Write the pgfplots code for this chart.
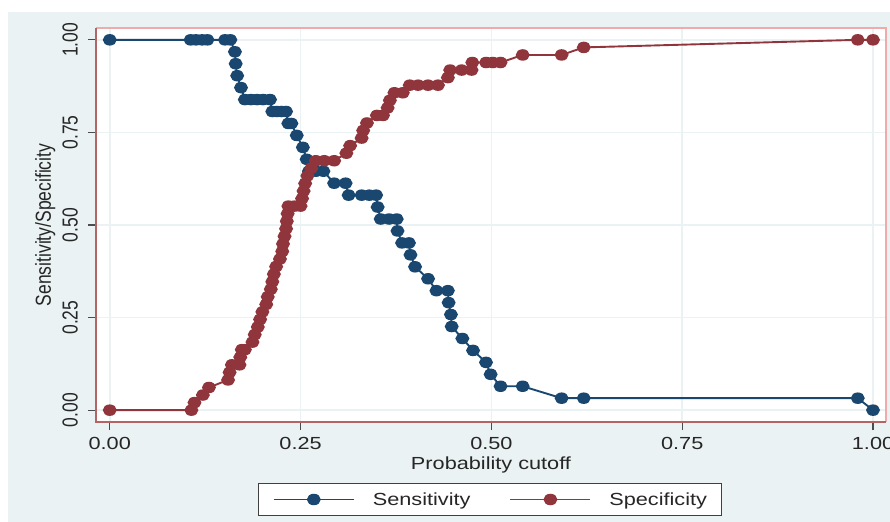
\documentclass[border=0pt]{standalone}
\usepackage{fontspec}
\setmainfont{Liberation Sans}[FakeStretch=1.24]
\newfontfamily\plainsans{Liberation Sans}
\usepackage{pgfplots}
\pgfplotsset{compat=1.18}
\usepackage{pgfplotstable}

% Stata s2color-like colours
\definecolor{stnavy}{RGB}{26,71,111}
\definecolor{stmaroon}{RGB}{144,53,59}
\definecolor{stbg}{RGB}{234,242,243}
\definecolor{frameA}{RGB}{240,170,170}
\definecolor{frameB}{RGB}{180,100,100}

\newcommand{\lblfont}{\fontsize{17.5bp}{21bp}\selectfont}
\newcommand{\rotfont}{\plainsans\fontsize{17.5bp}{21bp}\selectfont}

% sensitivity (k/31) against cutoff
\pgfplotstableread{
x y
0.000 1.0000
0.106 1.0000
0.113 1.0000
0.121 1.0000
0.128 1.0000
0.151 1.0000
0.158 1.0000
0.164 0.9677
0.165 0.9355
0.167 0.9032
0.172 0.8710
0.177 0.8387
0.185 0.8387
0.193 0.8387
0.201 0.8387
0.210 0.8387
0.213 0.8065
0.219 0.8065
0.225 0.8065
0.231 0.8065
0.234 0.7742
0.238 0.7742
0.245 0.7419
0.253 0.7097
0.258 0.6774
0.261 0.6452
0.270 0.6452
0.280 0.6452
0.294 0.6129
0.309 0.6129
0.313 0.5806
0.330 0.5806
0.340 0.5806
0.349 0.5806
0.351 0.5484
0.355 0.5161
0.366 0.5161
0.376 0.5161
0.377 0.4839
0.383 0.4516
0.392 0.4516
0.394 0.4194
0.400 0.3871
0.417 0.3548
0.428 0.3226
0.443 0.3226
0.444 0.2903
0.447 0.2581
0.448 0.2258
0.462 0.1935
0.476 0.1613
0.493 0.1290
0.499 0.0968
0.512 0.0645
0.541 0.0645
0.592 0.0323
0.621 0.0323
0.980 0.0323
1.000 0.0000
}\senstab

% specificity (k/49) against cutoff
\pgfplotstableread{
x y
0.000 0.0000
0.107 0.0000
0.111 0.0204
0.122 0.0408
0.130 0.0612
0.155 0.0816
0.157 0.1020
0.160 0.1224
0.170 0.1224
0.171 0.1429
0.173 0.1633
0.177 0.1633
0.187 0.1837
0.190 0.2041
0.194 0.2245
0.197 0.2449
0.200 0.2653
0.205 0.2857
0.207 0.3061
0.211 0.3265
0.213 0.3469
0.215 0.3673
0.218 0.3878
0.223 0.4082
0.226 0.4286
0.227 0.4490
0.229 0.4694
0.231 0.4898
0.232 0.5102
0.233 0.5306
0.234 0.5510
0.242 0.5510
0.250 0.5510
0.252 0.5714
0.254 0.5918
0.256 0.6122
0.259 0.6327
0.264 0.6531
0.270 0.6735
0.281 0.6735
0.294 0.6735
0.310 0.6939
0.315 0.7143
0.330 0.7347
0.332 0.7551
0.337 0.7755
0.350 0.7959
0.358 0.7959
0.364 0.8163
0.367 0.8367
0.373 0.8571
0.384 0.8571
0.393 0.8776
0.404 0.8776
0.417 0.8776
0.430 0.8776
0.443 0.8980
0.446 0.9184
0.461 0.9184
0.474 0.9184
0.475 0.9388
0.493 0.9388
0.502 0.9388
0.512 0.9388
0.541 0.9592
0.592 0.9592
0.621 0.9796
0.980 1.0000
1.000 1.0000
}\spectab

\pgfplotsset{
  /pgf/number format/fixed,
  /pgf/number format/fixed zerofill,
  /pgf/number format/precision=2,
  /pgf/number format/assume math mode=true,
}

\begin{document}
\begin{tikzpicture}
\path[use as bounding box] (0bp,0bp) rectangle (890bp,522bp);
\fill[stbg] (8bp,0bp) rectangle (890bp,510bp);
\begin{axis}[
  at={(96bp,100bp)}, anchor=south west,
  scale only axis, width=790bp, height=394bp,
  xmin=-0.018, xmax=1.017, ymin=-0.032, ymax=1.032,
  xtick={0,0.25,0.5,0.75,1}, ytick={0,0.25,0.5,0.75,1},
  scaled ticks=false,
  clip=false,
  tick align=outside, xtick pos=left, ytick pos=left,
  major tick length=8bp,
  tick style={draw=black!70, line width=1.3bp},
  grid=major, major grid style={draw=stbg, line width=1.6bp},
  axis line style={draw=none},
  axis background/.style={fill=white},
  xticklabel style={font=\lblfont, text=black!85, inner sep=0pt, anchor=north, yshift=-7bp},
  yticklabel style={font=\rotfont, text=black!85, inner sep=0pt, xshift=-10bp, rotate=90, yscale=1.24, anchor=south},
  xlabel={Probability cutoff}, ylabel={Sensitivity/Specificity},
  every axis x label/.style={at={(axis description cs:0.5,-0.1218)}, anchor=base, font=\lblfont, text=black!85},
  every axis y label/.style={at={(axis description cs:-0.057,0.5)}, rotate=90, yscale=1.24, anchor=base, font=\rotfont, text=black!85},
  legend columns=2,
  legend style={
    at={(axis description cs:0.4987,-0.1967)}, anchor=center,
    draw=black!75, line width=1bp, fill=white,
    font=\lblfont, text=black!85,
    inner xsep=14bp, inner ysep=9bp,
    column sep=18bp,
    nodes={inner sep=0pt},
    /tikz/every even column/.append style={column sep=39bp},
  },
  legend image code/.code={
    \draw[mark repeat=2,mark phase=2,#1] plot coordinates {(0bp,0bp) (40bp,0bp) (80bp,0bp)};
  },
]
\addplot[stnavy, line width=1.9bp, mark=*, mark size=4.8bp,
  mark options={solid, fill=stnavy, draw=stnavy, xscale=1.24}] table {\senstab};
\addlegendentry{Sensitivity}
\addplot[stmaroon, line width=1.9bp, mark=*, mark size=4.8bp,
  mark options={solid, fill=stmaroon, draw=stmaroon, xscale=1.24}] table {\spectab};
\addlegendentry{Specificity}
\draw[frameA, line width=1.3bp] (rel axis cs:0,1) -- (rel axis cs:1,1) -- (rel axis cs:1,0);
\draw[frameB, line width=1.3bp] (rel axis cs:1,0) -- (rel axis cs:0,0) -- (rel axis cs:0,1);
\end{axis}
\end{tikzpicture}
\end{document}
